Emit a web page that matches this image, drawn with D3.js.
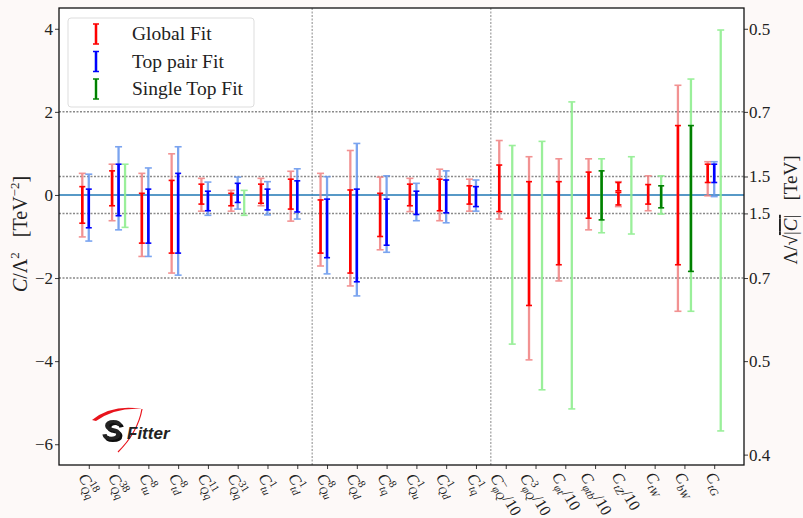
<!DOCTYPE html>
<html><head><meta charset="utf-8">
<script src="https://cdn.jsdelivr.net/npm/d3@7"></script>
<style>
html,body{margin:0;padding:0;background:#fdf9f8;}
svg{display:block;}
text{font-family:"Liberation Serif","DejaVu Serif",serif;fill:#222;}
</style></head>
<body>
<svg id="chart" width="803" height="518"></svg>
<script>
// ---------------- data ----------------
const catSup    = ["18","38","8","8","11","31","1","1","8","8","8","1","1","1","−","3","","","","","",""];
const catSub    = ["Qq","Qq","tu","td","Qq","Qq","tu","td","Qu","Qd","tq","Qu","Qd","tq","φQ","φQ","φt","φtb","tZ","tW","bW","tG"];
const catSuffix = ["","","","","","","","","","","","","","","/10","/10","/10","/10","/10","","",""];

const globalOuterLo = [-1.01,-0.62,-1.48,-1.88,-0.39,-0.39,-0.26,-0.63,-1.71,-2.19,-1.32,-0.40,-0.62,-0.39,-0.58,-3.97,-2.07,-0.84,-0.28,-0.38,-2.80,-0.02];
const globalOuterHi = [0.52,0.74,0.52,0.99,0.40,0.11,0.40,0.57,0.52,1.07,0.43,0.40,0.62,0.38,1.31,0.92,0.87,0.87,0.32,0.46,2.64,0.80];
const globalInnerLo = [-0.68,-0.26,-1.16,-1.40,-0.22,-0.26,-0.20,-0.34,-1.40,-1.88,-1.00,-0.26,-0.38,-0.22,-0.40,-2.66,-1.68,-0.56,-0.24,-0.22,-1.68,0.30];
const globalInnerHi = [0.20,0.58,0.04,0.35,0.26,0.04,0.26,0.38,-0.12,0.12,0.04,0.26,0.38,0.22,0.72,0.32,0.32,0.55,0.30,0.25,1.67,0.74];
// inner interval of C_tZ is split in two pieces: gap [lo, hi]
const globalInnerGapLo = [null,null,null,null,null,null,null,null,null,null,null,null,null,null,null,null,null,null,0.06,null,null,null];
const globalInnerGapHi = [null,null,null,null,null,null,null,null,null,null,null,null,null,null,null,null,null,null,0.10,null,null,null];

const topOuterLo = [-1.11,-0.84,-1.48,-1.93,-0.49,-0.34,-0.48,-0.58,-1.90,-2.43,-1.38,-0.62,-0.67,-0.39,null,null,null,null,null,null,null,-0.04];
const topOuterHi = [0.50,1.16,0.65,1.16,0.31,0.43,0.32,0.63,0.44,1.24,0.46,0.28,0.58,0.36,null,null,null,null,null,null,null,0.80];
const topInnerLo = [-0.79,-0.50,-1.16,-1.40,-0.38,-0.18,-0.36,-0.41,-1.51,-2.09,-1.21,-0.47,-0.43,-0.28,null,null,null,null,null,null,null,0.30];
const topInnerHi = [0.14,0.74,0.14,0.52,0.09,0.28,0.14,0.34,-0.10,0.14,-0.10,0.09,0.36,0.20,null,null,null,null,null,null,null,0.74];

const singleOuterLo = [null,-0.78,null,null,null,-0.49,null,null,null,null,null,null,null,null,-3.59,-4.69,-5.15,-0.91,-0.94,-0.46,-2.80,-5.68];
const singleOuterHi = [null,0.74,null,null,null,0.11,null,null,null,null,null,null,null,null,1.19,1.29,2.24,0.87,0.92,0.46,2.79,3.97];
const singleInnerLo = [null,null,null,null,null,null,null,null,null,null,null,null,null,null,null,null,null,-0.60,null,-0.31,-1.84,null];
const singleInnerHi = [null,null,null,null,null,null,null,null,null,null,null,null,null,null,null,null,null,0.58,null,0.22,1.67,null];

const leftTicks = [-6,-4,-2,0,2,4];
const rightTickValues = [4,2,0.4444,-0.4444,-2,-4,-6.25];
const rightTickLabels = ["0.5","0.7","1.5","1.5","0.7","0.5","0.4"];
const gridValues = [2,0.4444,-0.4444,-2];
const separators = [7.5,13.5];
const legendLabels = ["Global Fit","Top pair Fit","Single Top Fit"];

// ---------------- layout ----------------
const svg = d3.select("#chart");
const L=59, R=744, T=8, B=465;
const x = d3.scaleLinear().domain([-1,22]).range([L,R]);
const y = d3.scaleLinear().domain([-6.5,4.5]).range([B,T]);

const defs = svg.append("defs");
const f = defs.append("filter").attr("id","shadow").attr("x","-20%").attr("y","-20%").attr("width","160%").attr("height","160%");
f.append("feDropShadow").attr("dx",2).attr("dy",2).attr("stdDeviation",0.3).attr("flood-color","#111").attr("flood-opacity",1);

svg.append("rect").attr("x",L).attr("y",T).attr("width",R-L).attr("height",B-T).attr("fill","#fff");

const grid = svg.append("g");
grid.selectAll("line.h").data(gridValues).join("line")
  .attr("x1",L).attr("x2",R).attr("y1",d=>y(d)).attr("y2",d=>y(d))
  .attr("stroke","#8a8a8a").attr("stroke-width",1.5).attr("stroke-dasharray","2,1.5");
grid.selectAll("line.v").data(separators).join("line")
  .attr("x1",d=>x(d)).attr("x2",d=>x(d)).attr("y1",T).attr("y2",B)
  .attr("stroke","#8a8a8a").attr("stroke-width",1).attr("stroke-dasharray","2,1.5");

svg.append("line").attr("x1",L).attr("x2",R).attr("y1",y(0)).attr("y2",y(0))
  .attr("stroke","#1f77b4").attr("stroke-width",1.6);

// ---------------- error bars ----------------
const bars = svg.append("g");
function drawBars(lo, hi, off, color, width, capW, opacity){
  const idx = d3.range(lo.length).filter(i=>lo[i]!=null && hi[i]!=null);
  const g = bars.append("g").attr("stroke",color).attr("opacity",opacity);
  g.selectAll("line.bar").data(idx).join("line")
    .attr("x1",i=>x(i)+off).attr("x2",i=>x(i)+off)
    .attr("y1",i=>y(hi[i])).attr("y2",i=>y(lo[i])).attr("stroke-width",width);
  const caps=[];
  idx.forEach(i=>{caps.push([i,lo[i]]);caps.push([i,hi[i]]);});
  g.selectAll("line.cap").data(caps).join("line")
    .attr("x1",d=>x(d[0])+off-capW/2).attr("x2",d=>x(d[0])+off+capW/2)
    .attr("y1",d=>y(d[1])).attr("y2",d=>y(d[1])).attr("stroke-width",1.6);
}
function drawSplitInner(lo, hi, gLo, gHi, off, color, width, capW){
  const a=[],b=[];
  lo.forEach((v,i)=>{
    if(gLo[i]!=null){ a.push(lo[i]); b.push(gLo[i]); }
    else { a.push(lo[i]); b.push(hi[i]); }
  });
  drawBars(a,b,off,color,width,capW,1);
  const a2=gHi.map(v=>v), b2=gHi.map((v,i)=>v==null?null:hi[i]);
  drawBars(a2,b2,off,color,width,capW,1);
}
const OFF=6.5;
drawBars(globalOuterLo,globalOuterHi,-OFF,"#f08080",2.3,7,0.85);
drawBars(topOuterLo,topOuterHi,0,"#6495ed",2.3,7,0.85);
drawBars(singleOuterLo,singleOuterHi,OFF,"#90ee90",2.3,7,0.9);
drawSplitInner(globalInnerLo,globalInnerHi,globalInnerGapLo,globalInnerGapHi,-OFF,"#ff0000",2.6,6);
drawBars(topInnerLo,topInnerHi,0,"#0000ff",2.6,6,1);
drawBars(singleInnerLo,singleInnerHi,OFF,"#008000",2.6,6,1);

// ---------------- axes ----------------
const axL = svg.append("g").attr("transform",`translate(${L},0)`)
  .call(d3.axisLeft(y).tickValues(leftTicks).tickSize(4).tickFormat(d=>d<0?"−"+Math.abs(d):d));
const axR = svg.append("g").attr("transform",`translate(${R},0)`)
  .call(d3.axisRight(y).tickValues(rightTickValues).tickSize(4).tickFormat((d,i)=>rightTickLabels[i]));
const axB = svg.append("g").attr("transform",`translate(0,${B})`)
  .call(d3.axisBottom(x).tickValues(d3.range(catSub.length)).tickSize(4).tickFormat(""));
[axL,axR,axB].forEach(a=>{
  a.select(".domain").remove();
  a.selectAll(".tick line").attr("stroke","#222").attr("stroke-width",0.9);
  a.selectAll(".tick text").attr("font-size",17).attr("fill","#222").style("font-family","'Liberation Serif',serif");
});
axL.selectAll(".tick text").attr("x",-6);
axR.selectAll(".tick text").attr("x",5);

svg.append("rect").attr("x",L).attr("y",T).attr("width",R-L).attr("height",B-T)
  .attr("fill","none").attr("stroke","#111").attr("stroke-width",1.3);

// x tick labels
const lab = svg.append("g");
catSub.forEach((sub,i)=>{
  const grp = lab.append("g");
  const inner = grp.append("g").attr("transform","rotate(60)");
  const c = inner.append("text").attr("font-size",16).attr("font-style","italic").text("C");
  const w = c.node().getComputedTextLength()+0.3;
  let sw=0, bw=0;
  if(catSup[i]){
    const s = inner.append("text").attr("x",w).attr("y",-6.5).attr("font-size",11).text(catSup[i]);
    sw = s.node().getComputedTextLength();
  }
  const b = inner.append("text").attr("x",w).attr("y",4).attr("font-size",11).attr("font-style","italic").text(sub);
  bw = b.node().getComputedTextLength();
  if(catSuffix[i]){
    inner.append("text").attr("x",w+Math.max(sw,bw)+0.5).attr("font-size",16).text(catSuffix[i]);
  }
  const bb = grp.node().getBBox();
  grp.attr("transform",`translate(${x(i)-(bb.x+bb.width/2)},${469-bb.y})`);
});

// axis titles
const lt = svg.append("text").attr("transform","translate(27,234) rotate(-90)")
  .attr("text-anchor","middle").attr("font-size",20);
lt.append("tspan").attr("font-style","italic").text("C");
lt.append("tspan").text("/Λ");
lt.append("tspan").attr("font-size",13).attr("dy",-8).text("2");
lt.append("tspan").attr("dy",8).text("\u00a0\u00a0\u00a0[TeV");
lt.append("tspan").attr("font-size",13).attr("dy",-8).text("−2");
lt.append("tspan").attr("dy",8).text("]");

const rt = svg.append("text").attr("transform","translate(797,210) rotate(-90)")
  .attr("text-anchor","middle").attr("font-size",19);
rt.append("tspan").text("Λ/√");
rt.append("tspan").attr("style","text-decoration:overline").text("|");
rt.append("tspan").attr("font-style","italic").attr("style","text-decoration:overline").text("C");
rt.append("tspan").attr("style","text-decoration:overline").text("|");
rt.append("tspan").text("\u00a0\u00a0\u00a0[TeV]");

// ---------------- legend ----------------
const lg = svg.append("g");
lg.append("rect").attr("x",68).attr("y",18).attr("width",186).attr("height",89).attr("rx",3)
  .attr("fill","#fff").attr("stroke","#ddd").attr("stroke-width",1);
const legDark=["#ff0000","#0000ff","#008000"], legLight=["#f08080","#6495ed","#90ee90"];
legendLabels.forEach((t,i)=>{
  const cy = 34+27.5*i;
  [[legLight[i],3.2,0.6],[legDark[i],2.2,1]].forEach(([col,wd,op])=>{
    const g=lg.append("g").attr("stroke",col).attr("opacity",op);
    g.append("line").attr("x1",96).attr("x2",96).attr("y1",cy-10).attr("y2",cy+10).attr("stroke-width",wd);
    g.append("line").attr("x1",93).attr("x2",99).attr("y1",cy-10).attr("y2",cy-10).attr("stroke-width",1.4);
    g.append("line").attr("x1",93).attr("x2",99).attr("y1",cy+10).attr("y2",cy+10).attr("stroke-width",1.4);
  });
  lg.append("text").attr("x",132).attr("y",cy+6).attr("font-size",19.5).text(t);
});

// ---------------- logo ----------------
const logo = svg.append("g");
logo.append("path").attr("d","M92,420 Q112,404 142,409 Q116,407 96,421 Z").attr("fill","#e8141c");
logo.append("path").attr("d","M142,409 Q138,432 118,452").attr("fill","none").attr("stroke","#e8141c").attr("stroke-width",1.2);
logo.append("text").attr("x",102).attr("y",440).attr("font-size",30).attr("font-weight","bold").attr("font-style","italic")
  .attr("filter","url(#shadow)")
  .style("font-family","'Liberation Sans',Arial,sans-serif").attr("fill","#1f3de8").text("S");
logo.append("text").attr("x",127).attr("y",439).attr("font-size",17).attr("font-weight","bold").attr("font-style","italic")
  .style("font-family","'Liberation Sans',Arial,sans-serif").attr("fill","#1f3de8").text("Fitter");
</script>
</body></html>
